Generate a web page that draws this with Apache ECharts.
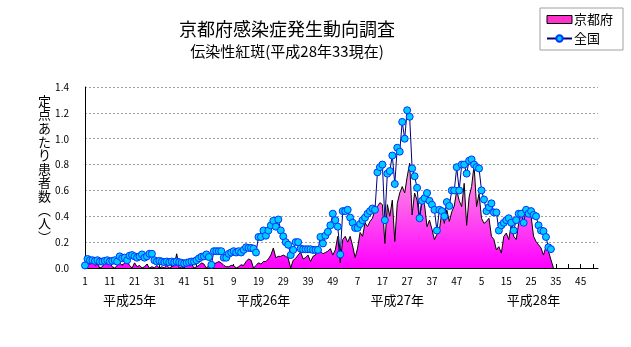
<!DOCTYPE html>
<html><head><meta charset="utf-8">
<script src="https://cdn.jsdelivr.net/npm/echarts@6/dist/echarts.min.js"></script>
<style>html,body{margin:0;padding:0;background:#fff}#c{width:631px;height:347px}</style>
</head><body><div id="c"></div>
<script>
// ---- data ----
const years = ['平成25年', '平成26年', '平成27年', '平成28年'];
const weeksPerYear = [52, 52, 52, 52];
const yTicks = [0, 0.2, 0.4, 0.6, 0.8, 1.0, 1.2, 1.4];
const yAxisTitle = '定点あたり患者数︵人︶';

const nat2013 = [0.02,0.07,0.06,0.06,0.055,0.06,0.05,0.05,0.055,0.06,
 0.05,0.055,0.06,0.05,0.09,0.075,0.08,0.06,0.095,0.1,
 0.09,0.08,0.09,0.105,0.08,0.09,0.11,0.11,0.06,0.05,
 0.055,0.05,0.045,0.05,0.045,0.05,0.045,0.05,0.045,0.04,
 0.035,0.04,0.045,0.05,0.05,0.06,0.075,0.087,0.09,0.105,
 0.085,0.025];
const nat2014 = [0.13,0.13,0.13,0.13,0.08,0.08,0.11,0.12,0.13,0.12,
 0.13,0.12,0.14,0.16,0.155,0.155,0.15,0.12,0.24,0.24,
 0.29,0.25,0.29,0.33,0.365,0.32,0.375,0.29,0.245,0.2,
 0.18,0.1,0.14,0.2,0.2,0.15,0.145,0.145,0.145,0.145,
 0.14,0.14,0.14,0.24,0.19,0.25,0.28,0.33,0.42,0.37,
 0.32,0.105];
const nat2015 = [0.44,0.44,0.45,0.39,0.35,0.31,0.31,0.34,0.37,0.39,
 0.42,0.44,0.46,0.45,0.74,0.78,0.8,0.37,0.73,0.75,
 0.87,0.65,0.93,0.9,1.13,1.0,1.22,1.17,0.77,0.71,
 0.62,0.385,0.52,0.54,0.58,0.52,0.49,0.45,0.29,0.45,
 0.44,0.4,0.51,0.48,0.6,0.6,0.78,0.6,0.8,0.8,
 0.73,0.83];
const nat2016 = [0.84,0.8,0.78,0.77,0.6,0.53,0.44,0.47,0.5,0.43,
 0.43,0.29,0.33,0.35,0.37,0.385,0.35,0.29,0.37,0.42,
 0.42,0.35,0.45,0.42,0.44,0.41,0.4,0.33,0.29,0.285,
 0.24,0.16,0.146];

const kyo2013 = [0.03,0.04,0.03,0.04,0.02,0.03,0,0.01,0.04,0.03,
 0.04,0.01,0,0.02,0.04,0.02,0.04,0.05,0.02,0,
 0.04,0.01,0.02,0,0.01,0.03,0,0.01,0,0.02,
 0,0.01,0,0.02,0,0.01,0.02,0.11,0,0.01,
 0,0.03,0.02,0.03,0,0.01,0.02,0.04,0.03,0,
 0.02,0.01];
const kyo2014 = [0.03,0.04,0.05,0.04,0.02,0.01,0.01,0.02,0.02,0,
 0.01,0.025,0.02,0.05,0.07,0.06,0,0.02,0.04,0.03,
 0.05,0.05,0.07,0.1,0.155,0.08,0.09,0.09,0.1,0.09,
 0.075,0,0.06,0.075,0.1,0.125,0.07,0.08,0.1,0.05,
 0.09,0.1,0.16,0.13,0.11,0.12,0.13,0.15,0.1,0.14,
 0.245,0.04];
const kyo2015 = [0.22,0.245,0.2,0.245,0.17,0.08,0.155,0.275,0.245,0.35,
 0.32,0.36,0.385,0.45,0.475,0.505,0.49,0.19,0.49,0.4,
 0.525,0.205,0.5,0.58,0.63,0.58,0.705,0.81,0.41,0.58,
 0.525,0.37,0.55,0.49,0.32,0.37,0.3,0.22,0.26,0.295,
 0.435,0.345,0.45,0.36,0.435,0.48,0.6,0.52,0.475,0.655,
 0.33,0.55];
const kyo2016 = [0.63,0.795,0.475,0.575,0.385,0.345,0.36,0.385,0.245,0.22,
 0.14,0.165,0.115,0.245,0.27,0.22,0.335,0.245,0.22,0.345,
 0.435,0.46,0.45,0.43,0.4,0.245,0.205,0.18,0.155,0.1,
 0.165,0.13,0.065,0];

// ---- build ----
const categories = [];
const yearStart = [];
weeksPerYear.forEach(n => { yearStart.push(categories.length); for (let w = 1; w <= n; w++) categories.push(String(w)); });
const national = [].concat(nat2013, nat2014, nat2015, nat2016);
const kyoto = [].concat(kyo2013, kyo2014, kyo2015, kyo2016);

const yearLabelOffset = [18, 20, 22, 25];
const yearLabelIdx = {};
yearStart.forEach((s, k) => { yearLabelIdx[s + yearLabelOffset[k]] = years[k]; });

const FF = '"Noto Sans CJK JP", "Noto Sans", sans-serif';
const chart = echarts.init(document.getElementById('c'), null, {renderer: 'canvas'});
chart.setOption({
  animation: false,
  backgroundColor: '#fff',
  textStyle: {fontFamily: FF, color: '#000'},
  title: [{
    text: '京都府感染症発生動向調査',
    subtext: '伝染性紅斑(平成28年33現在)',
    left: 282, textAlign: 'center', top: 15, itemGap: 6,
    textStyle: {fontFamily: FF, fontSize: 18, fontWeight: 'normal', color: '#000'},
    subtextStyle: {fontFamily: FF, fontSize: 15, color: '#000'}
  }, {
    text: yAxisTitle.split('').join('\n'),
    left: 38, top: 94, padding: 0,
    textStyle: {fontFamily: FF, fontSize: 13, fontWeight: 'normal', lineHeight: 13.6, color: '#000'}
  }],
  legend: {
    orient: 'vertical', left: 540, top: 8,
    padding: [5, 10, 5, 6], itemGap: 6,
    borderColor: '#a0a0a0', borderWidth: 1,
    itemWidth: 25, itemHeight: 8,
    textStyle: {fontFamily: FF, fontSize: 13, color: '#000', padding: [0, 0, 0, -3]},
    data: [
      {name: '京都府', icon: 'rect', itemStyle: {color: '#ff33cc', borderColor: '#000', borderWidth: 1}},
      {name: '全国'}
    ]
  },
  grid: {left: 85, right: 33, top: 87, bottom: 79},
  xAxis: [{
    type: 'category', data: categories, boundaryGap: false,
    axisLine: {lineStyle: {color: '#000', width: 1}},
    axisTick: {show: true, inside: true, length: 4, interval: 4, lineStyle: {color: '#000'}},
    axisLabel: {interval: 9, margin: 8, fontSize: 10, color: '#000', fontFamily: FF},
    splitLine: {show: false}
  }, {
    type: 'category', data: categories, boundaryGap: false, position: 'bottom', offset: 24,
    axisLine: {show: false}, axisTick: {show: false},
    axisLabel: {
      interval: (i) => yearLabelIdx[i] !== undefined,
      formatter: (v, i) => yearLabelIdx[i] || '',
      fontSize: 13, color: '#000', fontFamily: FF, margin: 2
    }
  }],
  yAxis: {
    type: 'value', min: 0, max: 1.4, interval: 0.2,
    axisLine: {show: true, lineStyle: {color: '#000', width: 1}},
    axisTick: {show: false},
    axisLabel: {formatter: v => v.toFixed(1), fontSize: 10, margin: 16, color: '#000', fontFamily: FF},
    splitLine: {show: true, lineStyle: {color: '#9aa39a', type: [2, 2], width: 1}}
  },
  series: [{
    name: '京都府', type: 'line', data: kyoto, symbol: 'none', z: 2,
    lineStyle: {color: '#000', width: 1},
    itemStyle: {color: '#ff33cc'},
    areaStyle: {opacity: 1, color: new echarts.graphic.LinearGradient(0, 0, 0, 1, [
      {offset: 0, color: '#ffa0e0'}, {offset: 1, color: '#ff00ff'}])}
  }, {
    name: '全国', type: 'line', data: national, z: 3,
    symbol: 'circle', symbolSize: 7, showAllSymbol: true,
    lineStyle: {color: '#000080', width: 1},
    itemStyle: {color: '#00ccff', borderColor: '#0033ff', borderWidth: 1}
  }]
});
</script>
</body></html>
